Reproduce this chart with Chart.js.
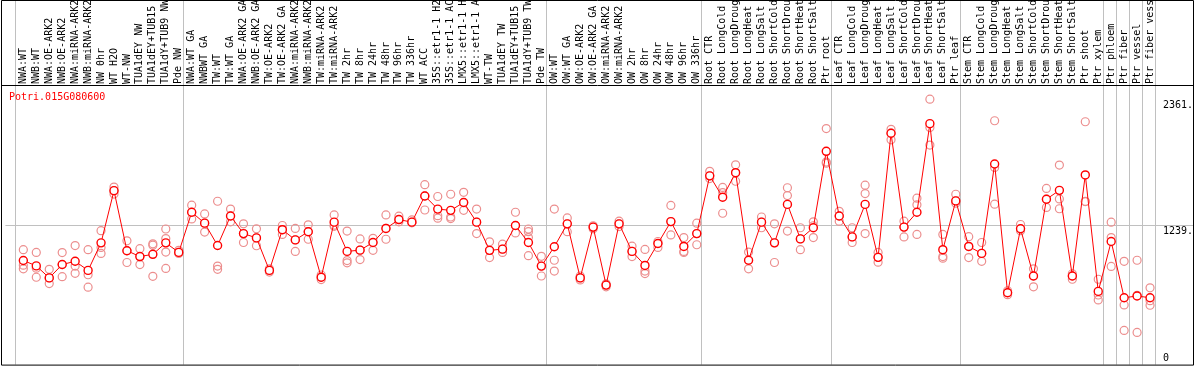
<!DOCTYPE html>
<html>
<head>
<meta charset="utf-8">
<script src="https://cdn.jsdelivr.net/npm/chart.js@4.4.1/dist/chart.umd.min.js"></script>
<style>
  html, body { margin: 0; padding: 0; background: #fff; }
  #wrap { width: 1194px; height: 370px; }
</style>
</head>
<body>
<div id="wrap"><canvas id="chart" width="1194" height="370"></canvas></div>
<script>
const geneId = 'Potri.015G080600';

const samples = [
  'NWA:WT', 'NWB:WT', 'NWA:OE-ARK2', 'NWB:OE-ARK2', 'NWA:miRNA-ARK2', 'NWB:miRNA-ARK2',
  'NW 0hr', 'WT H2O', 'WT-NW', 'TUA1dEY NW', 'TUA1dEY+TUB15 NW', 'TUA1dY+TUB9 NW', 'Pde NW',
  'NWA:WT GA', 'NWBWT GA', 'TW:WT', 'TW:WT GA', 'NWA:OE-ARK2 GA', 'NWB:OE-ARK2 GA',
  'TW:OE-ARK2', 'TW:OE-ARK2 GA', 'NWA:miRNA-ARK2 GA', 'NWB:miRNA-ARK2 GA', 'TW:miRNA-ARK2',
  'TW:miRNA-ARK2 GA', 'TW 2hr', 'TW 8hr', 'TW 24hr', 'TW 48hr', 'TW 96hr', 'TW 336hr', 'WT ACC',
  '35S::etr1-1 H2O', '35S::etr1-1 ACC', 'LMX5::etr1-1 H2O', 'LMX5::etr1-1 ACC', 'WT-TW',
  'TUA1dEY TW', 'TUA1dEY+TUB15 TW', 'TUA1dY+TUB9 TW', 'Pde TW',
  'OW:WT', 'OW:WT GA', 'OW:OE-ARK2', 'OW:OE-ARK2 GA', 'OW:miRNA-ARK2', 'OW:miRNA-ARK2 GA',
  'OW 2hr', 'OW 8hr', 'OW 24hr', 'OW 48hr', 'OW 96hr', 'OW 336hr',
  'Root CTR', 'Root LongCold', 'Root LongDrought', 'Root LongHeat', 'Root LongSalt',
  'Root ShortCold', 'Root ShortDrought', 'Root ShortHeat', 'Root ShortSalt', 'Ptr root',
  'Leaf CTR', 'Leaf LongCold', 'Leaf LongDrought', 'Leaf LongHeat', 'Leaf LongSalt',
  'Leaf ShortCold', 'Leaf ShortDrought', 'Leaf ShortHeat', 'Leaf ShortSalt', 'Ptr leaf',
  'Stem CTR', 'Stem LongCold', 'Stem LongDrought', 'Stem LongHeat', 'Stem LongSalt',
  'Stem ShortCold', 'Stem ShortDrought', 'Stem ShortHeat', 'Stem ShortSalt', 'Ptr shoot',
  'Ptr xylem', 'Ptr phloem', 'Ptr fiber', 'Ptr vessel', 'Ptr fiber vessel'
];

// mean expression per sample
const meanValues = [
  926, 878, 771, 890, 919, 838, 1083, 1547, 1013, 961, 981, 1083, 998,
  1355, 1258, 1059, 1322, 1165, 1127, 838, 1200, 1109, 1182, 777, 1267,
  1007, 1018, 1086, 1211, 1290, 1267, 1500, 1383, 1372, 1442, 1267, 1016,
  1027, 1237, 1086, 876,
  1048, 1252, 771, 1223, 707, 1252, 1007, 882, 1077, 1272, 1051, 1165,
  1679, 1489, 1707, 928, 1267, 1083, 1425, 1118, 1217, 1897,
  1322, 1136, 1425, 954, 2058, 1223, 1355, 2143, 1022, 1456,
  1051, 989, 1784, 639, 1208, 788, 1471, 1550, 788, 1687,
  651, 1095, 595, 610, 595
];

// replicates
const rep1 = [
  1022, 998, 847, 996, 1059, 1022, 1191, 1579, 1101, 1031, 1074, 1206, 1016,
  1418, 1340, 1453, 1383, 1252, 1208, 852, 1237, 1211, 1243, 797, 1331,
  1188, 1118, 1123, 1331, 1320, 1287, 1600, 1495, 1515, 1532, 1383, 1092,
  1071, 1355, 1182, 963,
  1383, 1305, 788, 1235, 718, 1276, 1053, 1024, 1095, 1416, 1130, 1258,
  1719, 1576, 1777, 1001, 1313, 1252, 1573, 1217, 1270, 2099,
  1363, 1217, 1596, 998, 2093, 1276, 1480, 2361, 1158, 1515,
  1138, 1086, 2169, 657, 1246, 852, 1567, 1775, 808, 2160,
  759, 1267, 919, 928, 683
];
const rep2 = [
  884, 858, 771, 890, 876, 799, 1042, 1547, 1013, 961, 1062, 1121, 989,
  1355, 1258, 876, 1322, 1165, 1127, 838, 1200, 1109, 1182, 777, 1240,
  925, 1018, 1086, 1211, 1290, 1267, 1500, 1325, 1313, 1442, 1267, 1016,
  1027, 1237, 1130, 876,
  928, 1252, 771, 1223, 707, 1252, 1007, 832, 1077, 1272, 1007, 1165,
  1679, 1530, 1707, 928, 1267, 1083, 1503, 1118, 1235, 1801,
  1322, 1136, 1521, 954, 2058, 1223, 1421, 2108, 961, 1456,
  1051, 989, 1754, 639, 1208, 788, 1471, 1474, 788, 1451,
  619, 1130, 531, 616, 569
];
const rep3 = [
  852, 777, 721, 782, 812, 689, 989, 1517, 908, 890, 785, 1001, 998,
  1296, 1179, 847, 1270, 1086, 1057, 823, 1158, 1007, 1115, 756, 1230,
  905, 934, 1016, 1115, 1270, 1261, 1375, 1302, 1299, 1372, 1165, 952,
  998, 1171, 969, 788,
  832, 1182, 753, 1208, 692, 1228, 961, 810, 1042, 1153, 998, 1066,
  1655, 1346, 1631, 852, 1217, 908, 1188, 1022, 1130, 1791,
  1276, 1086, 1165, 911, 1999, 1136, 1158, 1953, 947, 1436,
  952, 919, 1427, 622, 1191, 692, 1398, 1386, 759, 1450,
  575, 873, 304, 286, 528
];
const rep4 = samples.map(() => null);
rep4[11] = 855;
rep4[39] = 1206;

// first sample index of each group (vertical separators)
const groupStarts = [0, 13, 41, 53, 63, 73, 84, 85, 86, 87, 88];

const yTickValues = [0, 1239, 2361];
const yMax = 2478;

const monoFont = { family: "'DejaVu Sans Mono', monospace", size: 10 };
const gridGrey = '#c0c0c0';
const noLine = 'rgba(0,0,0,0)';

const toPoints = arr => arr.map((v, i) => ({ x: i, y: v }));

const xGridColor = c => (c.tick && !Number.isInteger(c.tick.value)) ? gridGrey : noLine;
const yGridColor = c => (c.tick && c.tick.value === 1239) ? gridGrey : noLine;

const framePlugin = {
  id: 'frame',
  afterDraw(chart) {
    const { ctx, width, chartArea } = chart;
    ctx.save();
    ctx.strokeStyle = '#000';
    ctx.lineWidth = 1;
    ctx.beginPath();
    ctx.rect(1.5, 0.5, width - 2, chartArea.bottom);
    ctx.moveTo(1, chartArea.top - 0.5);
    ctx.lineTo(width, chartArea.top - 0.5);
    ctx.stroke();
    ctx.fillStyle = '#ff0000';
    ctx.font = "10px 'DejaVu Sans Mono', monospace";
    ctx.textBaseline = 'middle';
    ctx.fillText(geneId, 9, chartArea.top + 11);
    ctx.restore();
  }
};

const repStyle = {
  showLine: false,
  pointRadius: 4,
  pointBorderWidth: 1.2,
  pointBorderColor: '#ec8e8e',
  pointBackgroundColor: noLine
};

new Chart(document.getElementById('chart'), {
  type: 'line',
  data: {
    datasets: [
      {
        label: 'mean',
        data: toPoints(meanValues),
        borderColor: '#ff0000',
        borderWidth: 1,
        pointRadius: 4,
        pointBorderWidth: 1.4,
        pointBorderColor: '#ff0000',
        pointBackgroundColor: '#ffffff',
        tension: 0
      },
      { label: 'rep1', data: toPoints(rep1), ...repStyle },
      { label: 'rep2', data: toPoints(rep2), ...repStyle },
      { label: 'rep3', data: toPoints(rep3), ...repStyle },
      { label: 'rep4', data: toPoints(rep4), ...repStyle }
    ]
  },
  options: {
    responsive: false,
    animation: false,
    devicePixelRatio: 1,
    layout: { padding: { left: 1, right: 0, top: 0, bottom: 1 } },
    plugins: {
      legend: { display: false },
      tooltip: { enabled: false },
      title: { display: false }
    },
    events: [],
    scales: {
      x: {
        type: 'linear',
        position: 'top',
        min: -1.385,
        max: 87.46,
        afterBuildTicks: s => {
          s.ticks = [
            ...samples.map((_, i) => ({ value: i })),
            ...groupStarts.map(b => ({ value: b - 0.615 }))
          ].sort((a, b) => a.value - b.value);
        },
        afterFit: s => { s.height = 86; },
        ticks: {
          autoSkip: false,
          minRotation: 90,
          maxRotation: 90,
          padding: -84,
          labelOffset: 12,
          font: monoFont,
          color: '#000',
          callback: v => Number.isInteger(v) ? samples[v] : ''
        },
        grid: { tickLength: 86, color: xGridColor, tickColor: xGridColor, lineWidth: 1 },
        border: { display: false }
      },
      y: {
        position: 'right',
        min: 0,
        max: yMax,
        afterBuildTicks: s => { s.ticks = yTickValues.map(v => ({ value: v })); },
        afterFit: s => { s.width = 38; },
        ticks: {
          padding: -31,
          font: { ...monoFont, lineHeight: 1.3 },
          color: '#000',
          callback: v => v === 0 ? ['0', ''] : ['', v + '.']
        },
        grid: { tickLength: 38, color: yGridColor, tickColor: yGridColor, lineWidth: 1 },
        border: { display: false }
      }
    }
  },
  plugins: [framePlugin]
});
</script>
</body>
</html>
